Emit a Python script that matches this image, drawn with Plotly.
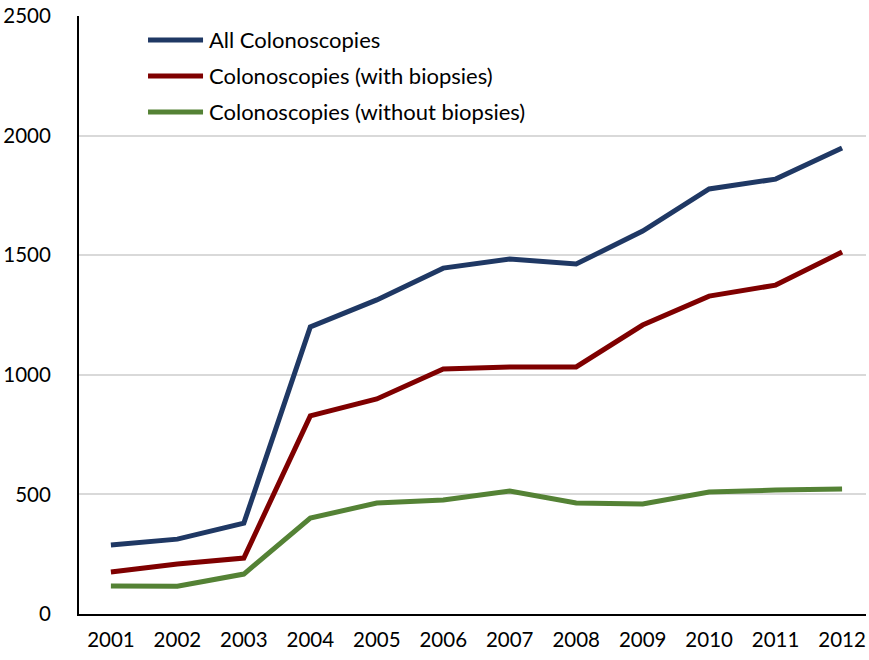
import plotly.graph_objects as go

years = ["2001", "2002", "2003", "2004", "2005", "2006", "2007", "2008", "2009", "2010", "2011", "2012"]
all_colon = [288, 313, 380, 1200, 1313, 1446, 1484, 1463, 1601, 1777, 1818, 1948]
with_biopsy = [176, 209, 234, 828, 899, 1024, 1033, 1033, 1208, 1329, 1375, 1513]
without_biopsy = [117, 116, 167, 401, 464, 477, 514, 464, 460, 510, 518, 523]

names = ["All Colonoscopies", "Colonoscopies (with biopsies)", "Colonoscopies (without biopsies)"]
colors = ["#1F3864", "#7F0000", "#548235"]
series = [all_colon, with_biopsy, without_biopsy]

FONT = "Lato"
fig = go.Figure()
xs = list(range(len(years)))
for name, vals, col in zip(names, series, colors):
    fig.add_trace(go.Scatter(x=xs, y=vals, mode="lines", name=name,
                             line=dict(color=col, width=5), showlegend=False))

# manual legend
leg_y = [0.9599, 0.8997, 0.8395]
for name, col, yy in zip(names, colors, leg_y):
    fig.add_shape(type="line", xref="paper", yref="paper", x0=0.0877, x1=0.1576,
                  y0=yy, y1=yy, line=dict(color=col, width=5))
    fig.add_annotation(xref="paper", yref="paper", x=0.1626, y=yy, text=name,
                       showarrow=False, xanchor="left", yanchor="middle",
                       font=dict(family=FONT, size=22, color="#000000"))

fig.update_layout(
    width=869, height=660,
    margin=dict(l=79, r=3, t=16, b=46),
    paper_bgcolor="white", plot_bgcolor="white",
    font=dict(family=FONT, size=20.5, color="#000000"),
)
fig.update_xaxes(tickmode="array", tickvals=xs, ticktext=years,
                 range=[-0.48, 11.36], showgrid=False, zeroline=False,
                 showline=True, linecolor="#000000", linewidth=2,
                 ticks="", ticklabelstandoff=6)
fig.update_yaxes(range=[0, 2500], tickvals=[0, 500, 1000, 1500, 2000, 2500],
                 showgrid=True, gridcolor="#D9D9D9", gridwidth=1.5, zeroline=False,
                 showline=True, linecolor="#000000", linewidth=2,
                 ticks="", ticklabelstandoff=22)

fig.write_html("out.html", config={"displayModeBar": False},
               post_script="document.body.style.margin='0';document.body.style.overflow='hidden';")
